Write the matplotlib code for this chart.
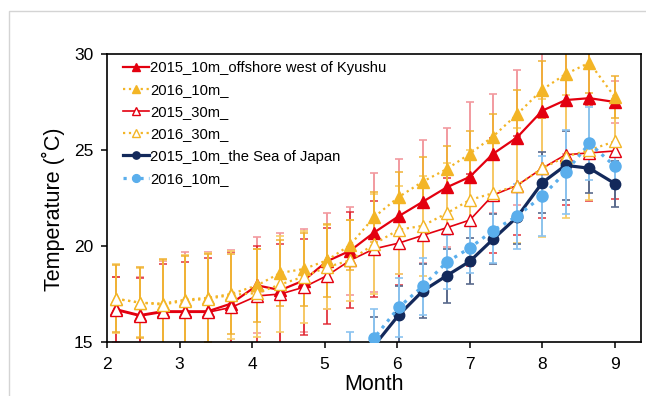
import matplotlib.pyplot as plt
from matplotlib.patches import Rectangle

plt.rcParams['font.family'] = ['Liberation Sans', 'DejaVu Sans']

# sampling dates (decimal month, ~10 day steps)
month = [2.13, 2.45, 2.77, 3.07, 3.39, 3.71, 4.07, 4.39, 4.71, 5.03, 5.35,
         5.68, 6.02, 6.35, 6.68, 7.0, 7.32, 7.65, 8.0, 8.32, 8.65, 9.0]

# offshore west of Kyushu
ky_10m_2015 = [16.7, 16.4, 16.6, 16.6, 16.6, 17.0, 17.95, 17.7, 18.2, 19.2, 19.75,
               20.7, 21.55, 22.3, 23.05, 23.6, 24.8, 25.65, 27.05, 27.6, 27.7, 27.5]
ky_10m_2015_sd = [1.7, 2.0, 2.6, 3.1, 3.1, 2.8, 2.5, 3.0, 2.7, 2.5, 2.3,
                  3.1, 3.0, 3.2, 3.1, 3.9, 3.1, 3.5, 3.2, 2.8, 2.5, 1.1]
ky_10m_2016 = [17.25, 17.05, 17.0, 17.2, 17.3, 17.5, 17.95, 18.6, 18.8, 19.25, 20.05,
               21.5, 22.55, 23.35, 24.0, 24.8, 25.7, 26.85, 28.15, 28.95, 29.55, 27.75]
ky_10m_2016_sd = [1.75, 1.85, 2.3, 2.3, 2.3, 2.1, 1.9, 1.7, 1.9, 1.9, 1.3,
                  1.3, 1.3, 1.3, 1.2, 1.2, 1.2, 1.3, 1.5, 1.5, 1.6, 1.1]
ky_30m_2015 = [16.65, 16.35, 16.55, 16.55, 16.55, 16.8, 17.4, 17.5, 17.85, 18.45, 19.25,
               19.85, 20.15, 20.55, 20.95, 21.35, 22.65, 23.15, 24.05, 24.75, 24.85, 24.95]
ky_30m_2015_sd = [1.75, 2.0, 2.5, 2.6, 2.8, 2.9, 2.6, 2.6, 2.5, 2.5, 2.5,
                  2.5, 2.2, 2.5, 2.6, 2.4, 3.0, 2.6, 2.6, 2.6, 2.5, 2.5]
ky_30m_2016 = [17.25, 17.05, 16.95, 17.15, 17.25, 17.45, 17.55, 18.0, 18.4, 18.9, 19.25,
               20.1, 20.85, 21.05, 21.7, 22.4, 22.75, 23.15, 24.05, 24.65, 25.0, 25.45]
ky_30m_2016_sd = [1.8, 1.8, 2.3, 2.4, 2.4, 2.3, 2.3, 2.5, 2.4, 2.2, 2.1,
                  2.6, 2.3, 2.6, 2.6, 2.6, 2.6, 3.0, 3.6, 3.2, 2.6, 2.2]

# the Sea of Japan (starts later in the season)
sj_month_2015 = month[11:]
sj_10m_2015 = [14.8, 16.4, 17.65, 18.45, 19.2, 20.35, 21.5, 23.3, 24.2, 24.05, 23.25]
sj_10m_2015_sd = [1.5, 1.5, 1.4, 1.4, 1.2, 1.3, 1.4, 1.6, 1.8, 1.3, 1.2]
sj_month_2016 = month[10:]
sj_10m_2016 = [14.3, 15.2, 16.8, 17.9, 19.15, 19.9, 20.8, 21.55, 22.6, 23.85, 25.35, 24.15]
sj_10m_2016_sd = [1.2, 1.5, 1.55, 1.5, 1.4, 1.3, 1.7, 1.7, 2.1, 2.2, 1.9, 1.2]

red = '#E3000F'
gold = '#F3B526'
navy = '#13295B'
sky = '#5AAEEC'

fig = plt.figure(figsize=(6.46, 3.96), dpi=100)
# light frame around the figure (screenshot border)
fig.patches.append(Rectangle((9 / 646, -0.1), 1.2, 1 - 11 / 396 + 0.1,
                             transform=fig.transFigure, fill=False,
                             edgecolor='#D4D4D4', linewidth=1))
ax = fig.add_axes([107 / 646, 1 - 342 / 396, 534 / 646, 288 / 396])

# error bars first
eb = dict(fmt='none', elinewidth=1.4, capsize=2.6, capthick=1.2, zorder=2)
ax.errorbar(month, ky_10m_2015, yerr=ky_10m_2015_sd, ecolor='#F29A9F', **eb)
ax.errorbar(month, ky_30m_2015, yerr=ky_30m_2015_sd, ecolor='#E0242E', alpha=0.85, **eb)
ax.errorbar(month, ky_30m_2016, yerr=ky_30m_2016_sd, ecolor='#F7CD6A', **eb)
ax.errorbar(month, ky_10m_2016, yerr=ky_10m_2016_sd, ecolor='#F0B030', alpha=0.9, **eb)
ax.errorbar(sj_month_2015, sj_10m_2015, yerr=sj_10m_2015_sd, ecolor='#5A6A8C', **eb)
ax.errorbar(sj_month_2016, sj_10m_2016, yerr=sj_10m_2016_sd, ecolor='#8CC4F0', **eb)

ax.plot(month, ky_10m_2015, '-', color=red, lw=1.6, marker='^', ms=8,
        mfc=red, mec=red, zorder=4, label='2015_10m_offshore west of Kyushu')
ax.plot(month, ky_10m_2016, ':', color=gold, lw=1.6, marker='^', ms=8,
        mfc=gold, mec=gold, zorder=4, label='2016_10m_')
ax.plot(month, ky_30m_2015, '-', color=red, lw=1.2, marker='^', ms=8,
        mfc='white', mec=red, mew=1.0, zorder=5, label='2015_30m_')
ax.plot(month, ky_30m_2016, ':', color=gold, lw=1.6, marker='^', ms=8,
        mfc='white', mec=gold, mew=1.0, zorder=5, label='2016_30m_')
ax.plot(sj_month_2015, sj_10m_2015, '-', color=navy, lw=2.3, marker='o', ms=7.5,
        mfc=navy, mec=navy, zorder=6, label='2015_10m_the Sea of Japan')
ax.plot(sj_month_2016, sj_10m_2016, ':', color=sky, lw=2.3, marker='o', ms=8,
        mfc=sky, mec=sky, zorder=6, label='2016_10m_')

ax.set_xlim(2, 9.36)
ax.set_ylim(15, 30)
ax.set_xticks(range(2, 10))
ax.set_yticks([15, 20, 25, 30])
ax.tick_params(direction='out', length=4, width=1.1, labelsize=12.5, colors='black')
ax.tick_params(axis='x', pad=7)
ax.tick_params(axis='y', pad=6)
for s in ax.spines.values():
    s.set_linewidth(1.2)
ax.set_xlabel('Month', fontsize=15.5, labelpad=1)
ax.set_ylabel('Temperature (˚C)', fontsize=15.5)
ax.yaxis.set_label_coords(-0.078, 0.46)

ax.legend(loc='upper left', bbox_to_anchor=(0.03, 0.975), frameon=False,
          fontsize=10.6, borderpad=0, borderaxespad=0, handlelength=1.75,
          handletextpad=0.1, labelspacing=0.55, numpoints=1, markerscale=0.7)

fig.savefig('out.png', dpi=100)
